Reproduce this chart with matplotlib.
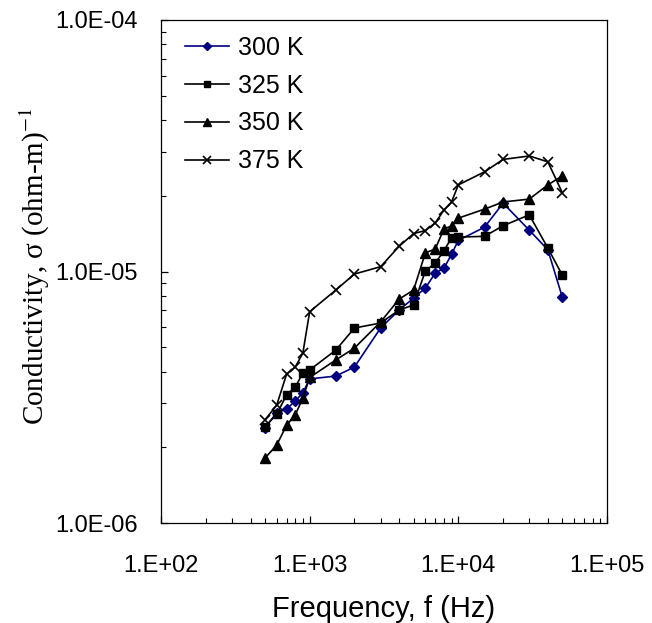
import matplotlib
matplotlib.use("Agg")
import matplotlib.pyplot as plt
from matplotlib.ticker import LogLocator, FuncFormatter, NullFormatter
import math

freq = [500, 600, 700, 800, 900, 1000, 1500, 2000, 3000, 4000, 5000, 6000,
        7000, 8000, 9000, 10000, 15000, 20000, 30000, 40000, 50000]

s300 = [2.39e-6, 2.74e-6, 2.84e-6, 3.06e-6, 3.29e-6, 3.74e-6, 3.84e-6, 4.17e-6,
        5.96e-6, 7.03e-6, 7.84e-6, 8.60e-6, 9.86e-6, 1.03e-5, 1.17e-5, 1.33e-5,
        1.50e-5, 1.87e-5, 1.46e-5, 1.22e-5, 7.92e-6]
s325 = [2.41e-6, 2.71e-6, 3.23e-6, 3.47e-6, 3.95e-6, 4.06e-6, 4.87e-6, 5.96e-6,
        6.24e-6, 7.03e-6, 7.36e-6, 1.005e-5, 1.08e-5, 1.21e-5, 1.36e-5, 1.37e-5,
        1.38e-5, 1.52e-5, 1.68e-5, 1.24e-5, 9.68e-6]
s350 = [1.81e-6, 2.04e-6, 2.45e-6, 2.69e-6, 3.14e-6, 3.79e-6, 4.45e-6, 4.96e-6,
        6.30e-6, 7.77e-6, 8.44e-6, 1.185e-5, 1.23e-5, 1.476e-5, 1.517e-5, 1.63e-5,
        1.77e-5, 1.89e-5, 1.94e-5, 2.21e-5, 2.40e-5]
s375 = [2.57e-6, 2.94e-6, 3.91e-6, 4.17e-6, 4.74e-6, 6.92e-6, 8.44e-6, 9.77e-6,
        1.045e-5, 1.26e-5, 1.415e-5, 1.455e-5, 1.56e-5, 1.755e-5, 1.89e-5, 2.21e-5,
        2.49e-5, 2.79e-5, 2.88e-5, 2.73e-5, 2.06e-5]

labels = ["300 K", "325 K", "350 K", "375 K"]

W, H = 652, 623
fig = plt.figure(figsize=(W / 100, H / 100), dpi=100)
ax = fig.add_axes([161 / W, 1 - 523 / H, (607 - 161) / W, (523 - 20) / H])

ax.plot(freq, s300, color="#000080", lw=1.2, marker="D", ms=5.2, label=labels[0])
ax.plot(freq, s325, color="black", lw=1.2, marker="s", ms=6.2, label=labels[1])
ax.plot(freq, s350, color="black", lw=1.2, marker="^", ms=7.2, label=labels[2])
ax.plot(freq, s375, color="black", lw=1.2, marker="x", ms=7.5, mew=1.2, label=labels[3])

ax.set_xscale("log")
ax.set_yscale("log")
ax.set_xlim(1e2, 1e5)
ax.set_ylim(1e-6, 1e-4)

ax.xaxis.set_major_locator(LogLocator(base=10, numticks=10))
ax.yaxis.set_major_locator(LogLocator(base=10, numticks=10))
ax.xaxis.set_minor_locator(LogLocator(base=10, subs=range(2, 10), numticks=20))
ax.yaxis.set_minor_locator(LogLocator(base=10, subs=range(2, 10), numticks=20))
ax.xaxis.set_minor_formatter(NullFormatter())
ax.yaxis.set_minor_formatter(NullFormatter())

def fx(v, pos):
    return "1.E+%02d" % int(round(math.log10(v)))

def fy(v, pos):
    e = int(round(math.log10(v)))
    return "1.0E-%02d" % (-e)

ax.xaxis.set_major_formatter(FuncFormatter(fx))
ax.yaxis.set_major_formatter(FuncFormatter(fy))

tickfont = "Liberation Sans"
ax.tick_params(axis="both", which="both", direction="in", top=False, right=False)
ax.tick_params(axis="both", which="major", length=5, width=0.9)
ax.tick_params(axis="both", which="minor", length=3.5, width=0.8)
ax.tick_params(axis="x", which="major", pad=23, labelsize=17)
ax.tick_params(axis="y", which="major", pad=17, labelsize=17)
for lab in ax.get_xticklabels() + ax.get_yticklabels():
    lab.set_fontfamily(tickfont)

for sp in ax.spines.values():
    sp.set_linewidth(0.9)

ax.set_xlabel("Frequency, f (Hz)", fontsize=21, fontfamily="Liberation Sans", labelpad=13)
fig.text(35 / W, 1 - 266 / H, "Conductivity, σ (ohm-m)$^{-1}$", rotation=90,
         ha="center", va="center", fontsize=21, fontfamily="Liberation Serif",
         math_fontfamily="stix")

leg = ax.legend(loc="upper left", bbox_to_anchor=(185 / W, 1 - 36 / H),
                bbox_transform=fig.transFigure, frameon=False,
                prop={"family": "Liberation Sans", "size": 18},
                handlelength=1.75, handletextpad=0.35, labelspacing=0.55,
                borderaxespad=0, borderpad=0, markerscale=0.8)

fig.savefig("out.png", dpi=100)
